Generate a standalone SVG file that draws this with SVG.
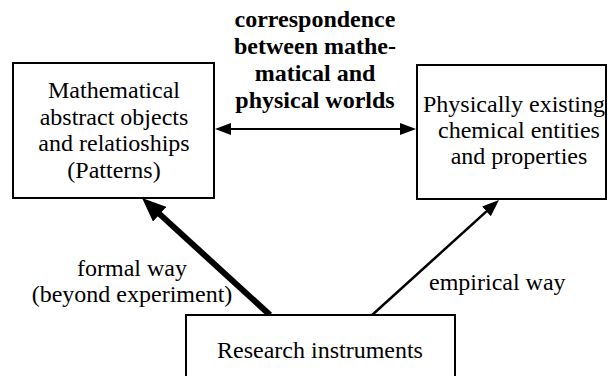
<svg xmlns="http://www.w3.org/2000/svg" width="608" height="376" viewBox="0 0 608 376">
<style>
.box{fill:#fff;stroke:#000;stroke-width:2}
.t{font-family:"Liberation Serif","Times New Roman",serif;font-size:24px;fill:#000;text-anchor:middle}
.b{font-weight:bold}
.s{text-anchor:start}
</style>
<defs>
<marker id="ahThick" markerUnits="userSpaceOnUse" viewBox="0 0 24 20" markerWidth="24" markerHeight="20" refX="12" refY="10" orient="auto"><path d="M0,0 L24,10 L0,20 z" fill="#000"/></marker>
<marker id="ahThin" markerUnits="userSpaceOnUse" viewBox="0 0 17 13" markerWidth="17" markerHeight="13" refX="9" refY="6.5" orient="auto"><path d="M0,0 L17,6.5 L0,13 z" fill="#000"/></marker>
<marker id="ahDbl" markerUnits="userSpaceOnUse" viewBox="0 0 16 12" markerWidth="16" markerHeight="12" refX="10" refY="6" orient="auto-start-reverse"><path d="M0,0 L16,6 L0,12 z" fill="#000"/></marker>
</defs>
<rect width="608" height="376" fill="#fff"/>
<g id="connectors" stroke="#000" fill="none">
<line x1="221" y1="129" x2="410" y2="129" stroke-width="2" marker-start="url(#ahDbl)" marker-end="url(#ahDbl)"/>
<line x1="270" y1="315" x2="150.9" y2="206.1" stroke-width="6" marker-end="url(#ahThick)"/>
<line x1="371" y1="316" x2="493.1" y2="205.4" stroke-width="2.5" marker-end="url(#ahThin)"/>
</g>
<g id="math">
<rect class="box" x="13" y="63" width="201" height="135"/>
<text class="t" x="114" y="98">Mathematical</text>
<text class="t" x="114" y="124.5">abstract objects</text>
<text class="t" x="114" y="151">and relatioships</text>
<text class="t" x="114" y="177.5">(Patterns)</text>
</g>
<g id="phys">
<rect class="box" x="417" y="65" width="189" height="134"/>
<text class="t" x="514" y="112" font-size="23.5">Physically existing</text>
<text class="t" x="519" y="138">chemical entities</text>
<text class="t" x="519" y="164">and properties</text>
</g>
<g id="instr">
<rect class="box" x="186" y="315" width="269" height="70"/>
<text class="t" x="320" y="358">Research instruments</text>
</g>
<g id="labels">
<text class="t b" x="315" y="27">correspondence</text>
<text class="t b" x="315" y="54">between mathe-</text>
<text class="t b" x="315" y="81">matical and</text>
<text class="t b" x="315" y="108">physical worlds</text>
<text class="t" x="132" y="276">formal way</text>
<text class="t" x="132" y="302">(beyond experiment)</text>
<text class="t s" x="429" y="290">empirical way</text>
</g>
</svg>
